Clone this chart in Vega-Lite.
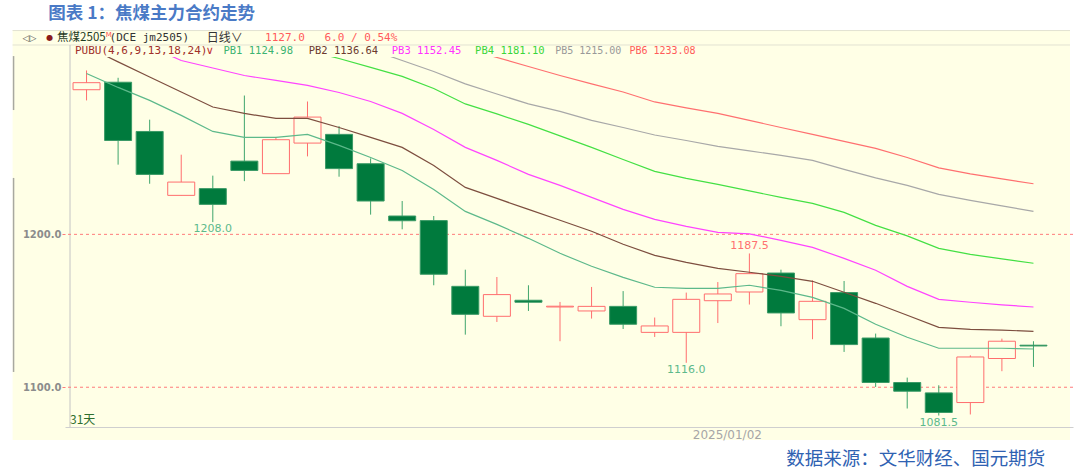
{
  "$schema": "https://vega.github.io/schema/vega-lite/v6.json",
  "width": 1008,
  "height": 370,
  "autosize": {"type": "none"},
  "padding": {"left": 65, "top": 57, "right": 7, "bottom": 42},
  "background": "white",
  "config": {"view": {"stroke": null}},
  "datasets": {
    "candles": [
      {"i":1,"o":1294.6,"h":1307.2,"l":1287.6,"c":1299.2,"PB1":1305.2,"PB2":1322.9,"PB3":1339.9,"PB4":1362.7,"PB5":1385.6,"PB6":1400.0},
      {"i":2,"o":1299.5,"h":1302.4,"l":1245.6,"c":1261.4,"PB1":1296.1,"PB2":1312.8,"PB3":1331.4,"PB4":1356.2,"PB5":1378.4,"PB6":1393.5},
      {"i":3,"o":1267.3,"h":1275.0,"l":1233.1,"c":1239.2,"PB1":1287.6,"PB2":1302.9,"PB3":1322.9,"PB4":1349.7,"PB5":1371.2,"PB6":1386.9},
      {"i":4,"o":1225.5,"h":1252.1,"l":1225.5,"c":1234.2,"PB1":1277.8,"PB2":1293.1,"PB3":1313.7,"PB4":1343.1,"PB5":1364.1,"PB6":1380.4},
      {"i":5,"o":1229.9,"h":1238.4,"l":1208.0,"c":1219.6,"PB1":1267.3,"PB2":1283.3,"PB3":1308.8,"PB4":1336.6,"PB5":1356.9,"PB6":1373.9},
      {"i":6,"o":1247.9,"h":1290.8,"l":1234.8,"c":1241.8,"PB1":1263.4,"PB2":1279.1,"PB3":1303.9,"PB4":1330.7,"PB5":1349.7,"PB6":1367.3},
      {"i":7,"o":1239.7,"h":1263.2,"l":1239.7,"c":1261.9,"PB1":1263.4,"PB2":1275.8,"PB3":1300.7,"PB4":1325.5,"PB5":1342.5,"PB6":1360.8},
      {"i":8,"o":1259.7,"h":1286.9,"l":1251.0,"c":1276.7,"PB1":1265.4,"PB2":1275.8,"PB3":1297.4,"PB4":1320.3,"PB5":1335.3,"PB6":1354.2},
      {"i":9,"o":1265.4,"h":1270.8,"l":1237.7,"c":1243.0,"PB1":1258.2,"PB2":1269.9,"PB3":1292.8,"PB4":1315.0,"PB5":1328.1,"PB6":1347.7},
      {"i":10,"o":1246.2,"h":1249.7,"l":1212.9,"c":1221.8,"PB1":1250.3,"PB2":1263.4,"PB3":1286.9,"PB4":1309.2,"PB5":1320.9,"PB6":1341.2},
      {"i":11,"o":1212.0,"h":1221.8,"l":1203.3,"c":1208.9,"PB1":1241.8,"PB2":1256.9,"PB3":1279.1,"PB4":1303.3,"PB5":1313.7,"PB6":1334.6},
      {"i":12,"o":1209.0,"h":1212.0,"l":1166.7,"c":1173.9,"PB1":1229.4,"PB2":1245.1,"PB3":1268.6,"PB4":1295.4,"PB5":1306.5,"PB6":1328.1},
      {"i":13,"o":1166.0,"h":1176.9,"l":1134.4,"c":1147.7,"PB1":1215.0,"PB2":1230.7,"PB3":1256.9,"PB4":1285.3,"PB5":1298.4,"PB6":1321.6},
      {"i":14,"o":1146.4,"h":1172.1,"l":1142.7,"c":1160.6,"PB1":1206.5,"PB2":1223.5,"PB3":1248.4,"PB4":1278.8,"PB5":1291.8,"PB6":1315.7},
      {"i":15,"o":1156.9,"h":1166.7,"l":1149.9,"c":1155.6,"PB1":1197.4,"PB2":1216.3,"PB3":1239.2,"PB4":1271.9,"PB5":1285.3,"PB6":1309.8},
      {"i":16,"o":1152.5,"h":1155.8,"l":1130.1,"c":1153.0,"PB1":1187.6,"PB2":1209.2,"PB3":1232.0,"PB4":1264.4,"PB5":1280.4,"PB6":1303.9},
      {"i":17,"o":1149.9,"h":1165.6,"l":1144.9,"c":1152.9,"PB1":1179.1,"PB2":1202.0,"PB3":1224.2,"PB4":1256.9,"PB5":1274.5,"PB6":1298.4},
      {"i":18,"o":1152.9,"h":1162.9,"l":1138.1,"c":1141.2,"PB1":1171.9,"PB2":1193.5,"PB3":1216.3,"PB4":1249.0,"PB5":1269.9,"PB6":1293.1},
      {"i":19,"o":1135.9,"h":1145.6,"l":1132.9,"c":1140.1,"PB1":1165.4,"PB2":1186.3,"PB3":1209.8,"PB4":1241.2,"PB5":1265.0,"PB6":1286.6},
      {"i":20,"o":1135.9,"h":1161.9,"l":1116.0,"c":1157.5,"PB1":1164.7,"PB2":1181.7,"PB3":1205.2,"PB4":1236.6,"PB5":1261.4,"PB6":1282.7},
      {"i":21,"o":1156.6,"h":1168.8,"l":1142.0,"c":1161.0,"PB1":1164.7,"PB2":1177.8,"PB3":1201.3,"PB4":1232.7,"PB5":1257.5,"PB6":1279.1},
      {"i":22,"o":1162.3,"h":1187.5,"l":1154.1,"c":1174.3,"PB1":1166.7,"PB2":1175.2,"PB3":1200.3,"PB4":1228.4,"PB5":1254.6,"PB6":1274.5},
      {"i":23,"o":1174.7,"h":1176.9,"l":1139.9,"c":1148.6,"PB1":1163.4,"PB2":1172.5,"PB3":1196.1,"PB4":1224.2,"PB5":1251.6,"PB6":1269.9},
      {"i":24,"o":1144.2,"h":1169.9,"l":1131.4,"c":1156.2,"PB1":1158.8,"PB2":1169.3,"PB3":1191.5,"PB4":1220.3,"PB5":1248.4,"PB6":1265.4},
      {"i":25,"o":1161.9,"h":1169.5,"l":1123.1,"c":1127.9,"PB1":1151.6,"PB2":1162.1,"PB3":1184.3,"PB4":1214.4,"PB5":1242.5,"PB6":1260.8},
      {"i":26,"o":1132.2,"h":1135.1,"l":1100.2,"c":1103.1,"PB1":1141.2,"PB2":1154.9,"PB3":1176.5,"PB4":1205.9,"PB5":1236.9,"PB6":1256.2},
      {"i":27,"o":1103.1,"h":1106.3,"l":1086.1,"c":1097.4,"PB1":1132.7,"PB2":1147.1,"PB3":1166.0,"PB4":1199.0,"PB5":1232.0,"PB6":1250.3},
      {"i":28,"o":1096.3,"h":1101.3,"l":1081.5,"c":1083.5,"PB1":1125.5,"PB2":1139.2,"PB3":1157.5,"PB4":1190.8,"PB5":1226.1,"PB6":1243.5},
      {"i":29,"o":1090.0,"h":1120.9,"l":1082.2,"c":1119.8,"PB1":1125.5,"PB2":1137.9,"PB3":1155.6,"PB4":1186.9,"PB5":1222.2,"PB6":1239.5},
      {"i":30,"o":1118.8,"h":1131.8,"l":1110.5,"c":1130.1,"PB1":1125.5,"PB2":1137.3,"PB3":1153.9,"PB4":1184.0,"PB5":1218.6,"PB6":1236.3},
      {"i":31,"o":1127.5,"h":1130.1,"l":1113.3,"c":1127.0,"PB1":1125.0,"PB2":1136.6,"PB3":1152.5,"PB4":1181.1,"PB5":1215.0,"PB6":1233.1}
    ],
    "levels": [{"v":1100},{"v":1200}],
    "extremes": [
      {"i":5,"v":1208.0,"kind":"low"},
      {"i":20,"v":1116.0,"kind":"low"},
      {"i":22,"v":1187.5,"kind":"high"},
      {"i":28,"v":1081.5,"kind":"low"}
    ],
    "one": [{}]
  },
  "layer": [
    {
      "data": {"name": "one"},
      "mark": {"type": "rect", "fill": "#FFFFE6"},
      "encoding": {
        "x": {"datum": -1.343, "type": "quantitative"},
        "x2": {"datum": 32.158},
        "y": {"datum": 1333.66, "type": "quantitative"},
        "y2": {"datum": 1065.5}
      }
    },
    {
      "data": {"name": "one"},
      "mark": {"type": "rule", "color": "#E2E2D2", "strokeWidth": 1},
      "encoding": {
        "x": {"datum": -1.343, "type": "quantitative"},
        "x2": {"datum": 32.158},
        "y": {"datum": 1333.3, "type": "quantitative"}
      }
    },
    {
      "data": {"name": "one"},
      "mark": {"type": "rule", "color": "#E2E2D2", "strokeWidth": 1},
      "encoding": {
        "x": {"datum": -1.343, "type": "quantitative"},
        "x2": {"datum": 32.158},
        "y": {"datum": 1323.85, "type": "quantitative"}
      }
    },
    {
      "data": {"name": "one"},
      "mark": {"type": "rule", "color": "#C4C4C4", "strokeWidth": 1},
      "encoding": {
        "x": {"datum": 0.476, "type": "quantitative"},
        "y": {"datum": 1323.85, "type": "quantitative"},
        "y2": {"datum": 1074}
      }
    },
    {
      "data": {"name": "one"},
      "mark": {"type": "rule", "color": "#A8A8A0", "strokeWidth": 1.5},
      "encoding": {
        "x": {"datum": -1.312, "type": "quantitative"},
        "y": {"datum": 1316.6, "type": "quantitative"},
        "y2": {"datum": 1281.3}
      }
    },
    {
      "data": {"name": "one"},
      "mark": {"type": "rule", "color": "#A8A8A0", "strokeWidth": 1.5},
      "encoding": {
        "x": {"datum": -1.312, "type": "quantitative"},
        "y": {"datum": 1236.9, "type": "quantitative"},
        "y2": {"datum": 1110.0}
      }
    },
    {
      "data": {"name": "levels"},
      "mark": {"type": "rule", "color": "#FF7B7B", "strokeDash": [3, 3], "strokeWidth": 1},
      "encoding": {
        "y": {"field": "v", "type": "quantitative"}
      }
    },
    {
      "data": {"name": "candles"},
      "mark": {"type": "rule", "strokeWidth": 1},
      "encoding": {
        "x": {
          "field": "i", "type": "quantitative",
          "scale": {"domain": [0.476, 32.094], "nice": false, "zero": false},
          "axis": {"values": [21], "labelExpr": "'2025/01/02'", "ticks": false, "grid": false, "domainColor": "#CFCFCF", "labelColor": "#A6A6A6", "labelFont": "DejaVu Sans", "labelFontSize": 12, "labelPadding": 2, "labelOffset": 9, "labelFlush": false, "title": null, "zindex": 1}
        },
        "y": {
          "field": "l", "type": "quantitative",
          "scale": {"domain": [1074, 1316], "nice": false, "zero": false},
          "axis": {"values": [1100, 1200], "format": ".1f", "grid": false, "domain": false, "tickColor": "#FF7B7B", "tickSize": 3, "labelPadding": 1, "labelFont": "DejaVu Sans", "labelFontWeight": "bold", "labelFontSize": 10, "labelColor": "#8C8C8C", "title": null, "zindex": 1}
        },
        "y2": {"field": "h"},
        "color": {"condition": {"test": "datum.c >= datum.o", "value": "#FF6E6E"}, "value": "#3FA56C"}
      }
    },
    {
      "data": {"name": "candles"},
      "mark": {"type": "bar", "size": 27, "strokeWidth": 1},
      "encoding": {
        "x": {"field": "i", "type": "quantitative"},
        "y": {"field": "o", "type": "quantitative"},
        "y2": {"field": "c"},
        "fill": {"condition": {"test": "datum.c >= datum.o", "value": "#FFFFE6"}, "value": "#007A3D"},
        "stroke": {"condition": {"test": "datum.c >= datum.o", "value": "#FF6E6E"}, "value": "#3A9A66"}
      }
    },
    {
      "data": {"name": "candles"},
      "transform": [{"fold": ["PB1", "PB2", "PB3", "PB4", "PB5", "PB6"], "as": ["series", "value"]}],
      "mark": {"type": "line", "strokeWidth": 1.2, "clip": true},
      "encoding": {
        "x": {"field": "i", "type": "quantitative"},
        "y": {"field": "value", "type": "quantitative"},
        "color": {
          "field": "series", "type": "nominal", "legend": null,
          "scale": {"domain": ["PB1", "PB2", "PB3", "PB4", "PB5", "PB6"], "range": ["#5DB98B", "#7D4E3F", "#FF44FF", "#44E044", "#A8A8A8", "#FF7070"]}
        }
      }
    },
    {
      "data": {"name": "extremes"},
      "transform": [{"filter": "datum.kind == 'low'"}],
      "mark": {"type": "text", "dy": 7, "baseline": "middle", "align": "center", "font": "DejaVu Sans", "fontSize": 11, "color": "#5DB98B"},
      "encoding": {
        "x": {"field": "i", "type": "quantitative"},
        "y": {"field": "v", "type": "quantitative"},
        "text": {"field": "v", "type": "quantitative", "format": ".1f"}
      }
    },
    {
      "data": {"name": "extremes"},
      "transform": [{"filter": "datum.kind == 'high'"}],
      "mark": {"type": "text", "dy": -7, "baseline": "middle", "align": "center", "font": "DejaVu Sans", "fontSize": 11, "color": "#FF7070"},
      "encoding": {
        "x": {"field": "i", "type": "quantitative"},
        "y": {"field": "v", "type": "quantitative"},
        "text": {"field": "v", "type": "quantitative", "format": ".1f"}
      }
    },
    {
      "data": {"name": "one"},
      "mark": {"type": "text", "align": "left", "baseline": "middle", "font": "Noto Sans CJK SC", "fontSize": 17.5, "fontWeight": "bold", "color": "#4A7AC6", "text": "图表 1：焦煤主力合约走势"},
      "encoding": {"x": {"datum": -0.214, "type": "quantitative"}, "y": {"datum": 1343.8, "type": "quantitative"}}
    },
    {
      "data": {"name": "one"},
      "mark": {"type": "text", "align": "right", "baseline": "middle", "font": "Noto Sans CJK SC", "fontSize": 18.5, "color": "#2F62B2", "text": "数据来源：文华财经、国元期货"},
      "encoding": {"x": {"datum": 31.37, "type": "quantitative"}, "y": {"datum": 1053.1, "type": "quantitative"}}
    },
    {
      "data": {"name": "one"},
      "mark": {"type": "text", "align": "left", "baseline": "middle", "font": "Noto Sans CJK SC", "fontSize": 12, "color": "#2F6F2F", "text": "31天"},
      "encoding": {"x": {"datum": 0.476, "type": "quantitative"}, "y": {"datum": 1078.6, "type": "quantitative"}}
    },
    {
      "data": {"name": "one"},
      "mark": {"type": "text", "align": "left", "baseline": "middle", "font": "DejaVu Sans", "fontSize": 9, "color": "#555555", "text": "◁▷"},
      "encoding": {"x": {"datum": -1.03, "type": "quantitative"}, "y": {"datum": 1328.75, "type": "quantitative"}}
    },
    {
      "data": {"name": "one"},
      "mark": {"type": "text", "align": "left", "baseline": "middle", "font": "DejaVu Sans", "fontSize": 8, "color": "#8B1A1A", "text": "●"},
      "encoding": {"x": {"datum": -0.277, "type": "quantitative"}, "y": {"datum": 1328.75, "type": "quantitative"}}
    },
    {
      "data": {"name": "one"},
      "mark": {"type": "text", "align": "left", "baseline": "middle", "font": "Noto Sans CJK SC", "fontSize": 11.5, "color": "#1E3A1E", "text": "焦煤2505"},
      "encoding": {"x": {"datum": 0.068, "type": "quantitative"}, "y": {"datum": 1328.75, "type": "quantitative"}}
    },
    {
      "data": {"name": "one"},
      "mark": {"type": "text", "align": "left", "baseline": "middle", "font": "DejaVu Sans", "fontSize": 7, "color": "#FF5050", "text": "M"},
      "encoding": {"x": {"datum": 1.605, "type": "quantitative"}, "y": {"datum": 1330.5, "type": "quantitative"}}
    },
    {
      "data": {"name": "one"},
      "mark": {"type": "text", "align": "left", "baseline": "middle", "font": "DejaVu Sans Mono", "fontSize": 11, "color": "#333333", "text": "(DCE jm2505)"},
      "encoding": {"x": {"datum": 1.731, "type": "quantitative"}, "y": {"datum": 1328.75, "type": "quantitative"}}
    },
    {
      "data": {"name": "one"},
      "mark": {"type": "text", "align": "left", "baseline": "middle", "font": "Noto Sans CJK SC", "fontSize": 12, "color": "#333333", "text": "日线∨"},
      "encoding": {"x": {"datum": 4.805, "type": "quantitative"}, "y": {"datum": 1328.75, "type": "quantitative"}}
    },
    {
      "data": {"name": "one"},
      "mark": {"type": "text", "align": "left", "baseline": "middle", "font": "DejaVu Sans Mono", "fontSize": 11, "color": "#FF5A5A", "text": "1127.0"},
      "encoding": {"x": {"datum": 6.655, "type": "quantitative"}, "y": {"datum": 1328.75, "type": "quantitative"}}
    },
    {
      "data": {"name": "one"},
      "mark": {"type": "text", "align": "left", "baseline": "middle", "font": "DejaVu Sans Mono", "fontSize": 11, "color": "#FF5A5A", "text": "6.0 / 0.54%"},
      "encoding": {"x": {"datum": 8.537, "type": "quantitative"}, "y": {"datum": 1328.75, "type": "quantitative"}}
    },
    {
      "data": {"name": "one"},
      "mark": {"type": "text", "align": "left", "baseline": "middle", "font": "DejaVu Sans Mono", "fontSize": 11, "color": "#A0302A", "text": "PUBU(4,6,9,13,18,24)"},
      "encoding": {"x": {"datum": 0.633, "type": "quantitative"}, "y": {"datum": 1320.25, "type": "quantitative"}}
    },
    {
      "data": {"name": "one"},
      "mark": {"type": "text", "align": "left", "baseline": "middle", "font": "DejaVu Sans", "fontSize": 11, "color": "#C03030", "text": "∨"},
      "encoding": {"x": {"datum": 4.773, "type": "quantitative"}, "y": {"datum": 1320.25, "type": "quantitative"}}
    },
    {
      "data": {"name": "one"},
      "mark": {"type": "text", "align": "left", "baseline": "middle", "font": "DejaVu Sans Mono", "fontSize": 10.5, "color": "#3CB371", "text": "PB1 1124.98"},
      "encoding": {"x": {"datum": 5.338, "type": "quantitative"}, "y": {"datum": 1320.25, "type": "quantitative"}}
    },
    {
      "data": {"name": "one"},
      "mark": {"type": "text", "align": "left", "baseline": "middle", "font": "DejaVu Sans Mono", "fontSize": 10.5, "color": "#6B3A2E", "text": "PB2 1136.64"},
      "encoding": {"x": {"datum": 8.036, "type": "quantitative"}, "y": {"datum": 1320.25, "type": "quantitative"}}
    },
    {
      "data": {"name": "one"},
      "mark": {"type": "text", "align": "left", "baseline": "middle", "font": "DejaVu Sans Mono", "fontSize": 10.5, "color": "#FF33FF", "text": "PB3 1152.45"},
      "encoding": {"x": {"datum": 10.67, "type": "quantitative"}, "y": {"datum": 1320.25, "type": "quantitative"}}
    },
    {
      "data": {"name": "one"},
      "mark": {"type": "text", "align": "left", "baseline": "middle", "font": "DejaVu Sans Mono", "fontSize": 10.5, "color": "#3AD63A", "text": "PB4 1181.10"},
      "encoding": {"x": {"datum": 13.31, "type": "quantitative"}, "y": {"datum": 1320.25, "type": "quantitative"}}
    },
    {
      "data": {"name": "one"},
      "mark": {"type": "text", "align": "left", "baseline": "middle", "font": "DejaVu Sans Mono", "fontSize": 10, "color": "#999999", "text": "PB5 1215.00"},
      "encoding": {"x": {"datum": 15.846, "type": "quantitative"}, "y": {"datum": 1320.25, "type": "quantitative"}}
    },
    {
      "data": {"name": "one"},
      "mark": {"type": "text", "align": "left", "baseline": "middle", "font": "DejaVu Sans Mono", "fontSize": 10, "color": "#FF5A5A", "text": "PB6 1233.08"},
      "encoding": {"x": {"datum": 18.198, "type": "quantitative"}, "y": {"datum": 1320.25, "type": "quantitative"}}
    }
  ]
}
